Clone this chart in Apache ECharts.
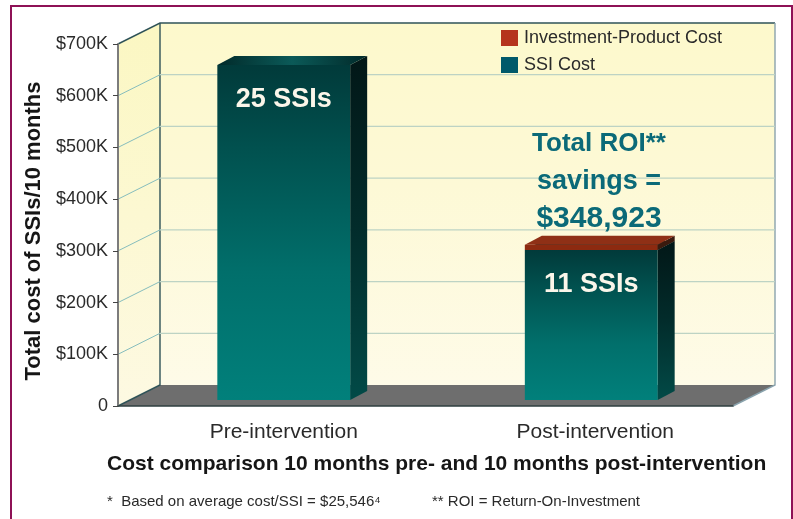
<!DOCTYPE html>
<html>
<head>
<meta charset="utf-8">
<title>Cost comparison</title>
<script src="https://cdn.jsdelivr.net/npm/echarts@6/dist/echarts.min.js"></script>
<style>
  html, body { margin: 0; padding: 0; background: #fff; }
  #chart { width: 793px; height: 519px; }
</style>
</head>
<body>
<div id="chart"></div>
<script>
// values
const categories = ["Pre-intervention", "Post-intervention"];
const ssiCost = [648000, 290000];
const investmentCost = [0, 10000];
const barLabels = ["25 SSIs", "11 SSIs"];
const yTicks = [0, 100000, 200000, 300000, 400000, 500000, 600000, 700000];

// fake 3d: back wall offset, and bar offset inside the box
const WALL_DX = 42, WALL_DY = -21;
const BAR_DX = 12, BAR_DY = -6;
const SIDE_DX = 17, SIDE_DY = -9;
const BAR_RATIO = 0.432;

const FONT = '"Liberation Sans", Arial, sans-serif';

function vGrad(stops) {
  return new echarts.graphic.LinearGradient(0, 0, 0, 1,
    stops.map((s) => ({ offset: s[0], color: s[1] })));
}

function poly(points, fill, z2) {
  return { type: "polygon", z2: z2 || 0, shape: { points }, style: { fill, stroke: null } };
}

function line(points, stroke, width, z2) {
  return { type: "polyline", z2: z2 || 1, shape: { points }, style: { fill: null, stroke, lineWidth: width } };
}

function renderBox(params) {
  const c = params.coordSys;
  const x0 = c.x, y0 = c.y, x1 = c.x + c.width, y1 = c.y + c.height;
  const bx0 = x0 + WALL_DX, bx1 = x1 + WALL_DX;
  const by0 = y0 + WALL_DY, by1 = y1 + WALL_DY;
  return {
    type: "group",
    children: [
      poly([[bx0, by0], [bx1, by0], [bx1, by1], [bx0, by1]],
        vGrad([[0, "#fdf9cc"], [0.45, "#fdf9d6"], [1, "#fefbe8"]])),
      poly([[x0, y0], [bx0, by0], [bx0, by1], [x0, y1]],
        vGrad([[0, "#fbf7c2"], [0.5, "#fcf8d2"], [1, "#fdf9e2"]])),
      poly([[x0, y1], [bx0, by1], [bx1, by1], [x1, y1]], "#6e6e6e", 2),
      line([[x0, y0], [bx0, by0], [bx1, by0]], "#2f5358", 1.4, 3),
      line([[bx0, by0], [bx0, by1], [x0, y1]], "#2f5358", 1.4, 3),
      line([[bx1, by0], [bx1, by1], [x1, y1]], "#8aa3ad", 1.4, 3)
    ]
  };
}

function renderGridLine(params, api) {
  const v = api.value(0);
  if (v === 0 || v === 700000) return null;
  const p = api.coord([0, v]);
  const c = params.coordSys;
  const y = p[1], bx1 = c.x + c.width + WALL_DX;
  return {
    type: "group",
    children: [
      line([[c.x, y], [c.x + WALL_DX, y + WALL_DY]], "#86bdbd", 1),
      line([[c.x + WALL_DX, y + WALL_DY], [bx1, y + WALL_DY]], "#bdd3c4", 1.2)
    ]
  };
}

// one block of the bar between two values, through the axis scales
function block(api, from, to, faces) {
  const cat = api.value(0);
  const bottom = api.coord([cat, from]);
  const top = api.coord([cat, to]);
  const w = api.size([1, 0])[0] * BAR_RATIO;
  const xl = bottom[0] - w / 2 + BAR_DX, xr = xl + w;
  const yb = bottom[1] + BAR_DY, yt = top[1] + BAR_DY;
  return {
    xl, xr, yb, yt,
    children: [
      poly([[xr, yb], [xr + SIDE_DX, yb + SIDE_DY], [xr + SIDE_DX, yt + SIDE_DY], [xr, yt]], faces.side, 1),
      poly([[xl, yt], [xl + SIDE_DX, yt + SIDE_DY], [xr + SIDE_DX, yt + SIDE_DY], [xr, yt]], faces.top, 1),
      poly([[xl, yb], [xr, yb], [xr, yt], [xl, yt]], faces.front, 2)
    ]
  };
}

function renderSsi(params, api) {
  const b = block(api, 0, api.value(1), {
    front: vGrad([[0, "#013a3a"], [0.25, "#01514f"], [0.62, "#016f6b"], [1, "#01807b"]]),
    side: vGrad([[0, "#021717"], [0.5, "#022c2b"], [1, "#024a47"]]),
    top: new echarts.graphic.LinearGradient(0, 0, 1, 0, [
      { offset: 0, color: "#012a2a" },
      { offset: 0.5, color: "#0b5a58" },
      { offset: 1, color: "#012a2a" }
    ])
  });
  b.children.push({
    type: "text",
    z2: 5,
    style: {
      text: barLabels[api.value(0)],
      x: (b.xl + b.xr) / 2,
      y: b.yt + 35,
      align: "center",
      verticalAlign: "middle",
      fill: "#fbf6ea",
      font: "bold 27px " + FONT
    }
  });
  return { type: "group", children: b.children };
}

function renderInvestment(params, api) {
  const amount = api.value(2);
  if (!amount) return null;
  const base = api.value(1);
  const b = block(api, base, base + amount, {
    front: "#8c2a10",
    side: "#3a1a0e",
    top: "#8f3016"
  });
  return { type: "group", children: b.children };
}

const chart = echarts.init(document.getElementById("chart"), null, { renderer: "canvas" });

chart.setOption({
  animation: false,
  backgroundColor: "#ffffff",
  textStyle: { fontFamily: FONT },
  grid: { left: 118, top: 44, width: 615, height: 362 },
  title: [
    {
      text: "Cost comparison 10 months pre- and 10 months post-intervention",
      left: 102, top: 449,
      textStyle: { fontFamily: FONT, fontSize: 21, fontWeight: "bold", color: "#161616" }
    },
    {
      text: "*  Based on average cost/SSI = $25,546\u2074",
      left: 102, top: 489,
      textStyle: { fontFamily: FONT, fontSize: 15, fontWeight: "normal", color: "#2a2a2a" }
    },
    {
      text: "** ROI = Return-On-Investment",
      left: 427, top: 489,
      textStyle: { fontFamily: FONT, fontSize: 15, fontWeight: "normal", color: "#2a2a2a" }
    }
  ],
  legend: {
    orient: "vertical",
    left: 496, top: 24,
    itemWidth: 17, itemHeight: 16, itemGap: 9,
    icon: "rect",
    selectedMode: false,
    data: ["Investment-Product Cost", "SSI Cost"],
    textStyle: { fontFamily: FONT, fontSize: 18, color: "#2a2a2a", padding: [0, 0, 0, 1] }
  },
  xAxis: {
    type: "category",
    data: categories,
    z: 5,
    axisLine: { lineStyle: { color: "#2f3f40", width: 1.5 } },
    axisTick: { show: false },
    axisLabel: {
      margin: 16,
      fontSize: 21,
      color: "#2a2a2a",
      formatter: (v, i) => (i === 0 ? "{a|" + v + "}" : "{b|" + v + "}"),
      rich: {
        a: { fontSize: 21, color: "#2a2a2a", padding: [0, 0, 0, 24] },
        b: { fontSize: 21, color: "#2a2a2a", padding: [0, 0, 0, 32] }
      }
    }
  },
  yAxis: {
    type: "value",
    min: 0,
    max: 700000,
    interval: 100000,
    z: 5,
    name: "Total cost of SSIs/10 months",
    nameLocation: "middle",
    nameRotate: 90,
    nameGap: 73,
    nameTextStyle: { fontFamily: FONT, fontSize: 22, fontWeight: "bold", color: "#161616", padding: [0, 12, 0, 0] },
    axisLine: { show: true, lineStyle: { color: "#7c7c7c", width: 2 } },
    axisTick: { show: true, length: 5, lineStyle: { color: "#444" } },
    splitLine: { show: false },
    axisLabel: {
      margin: 10,
      fontSize: 18,
      color: "#2a2a2a",
      formatter: (v) => (v === 0 ? "0" : "$" + v / 1000 + "K")
    }
  },
  series: [
    {
      type: "custom",
      z: 1,
      silent: true,
      coordinateSystem: "cartesian2d",
      renderItem: renderBox,
      data: [[0, 0]]
    },
    {
      type: "custom",
      z: 2,
      silent: true,
      coordinateSystem: "cartesian2d",
      renderItem: renderGridLine,
      encode: { x: 1, y: 0 },
      data: yTicks.map((t) => [t, 0])
    },
    {
      name: "SSI Cost",
      type: "custom",
      z: 3,
      coordinateSystem: "cartesian2d",
      itemStyle: { color: "#00596a" },
      renderItem: renderSsi,
      encode: { x: 0, y: 1 },
      data: categories.map((c, i) => [i, ssiCost[i]])
    },
    {
      name: "Investment-Product Cost",
      type: "custom",
      z: 4,
      coordinateSystem: "cartesian2d",
      itemStyle: { color: "#b5341c" },
      renderItem: renderInvestment,
      encode: { x: 0, y: 1 },
      data: categories.map((c, i) => [i, ssiCost[i], investmentCost[i]])
    }
  ],
  graphic: [
    {
      type: "polyline",
      z: 20,
      silent: true,
      shape: { points: [[11, 519], [11, 6], [792, 6], [792, 519]] },
      style: { fill: null, stroke: "#8e1156", lineWidth: 2 }
    },
    {
      type: "text",
      z: 20,
      silent: true,
      style: { x: 599, y: 144, text: "Total ROI**", align: "center", verticalAlign: "middle", fill: "#0b6a78", font: "bold 26px " + FONT }
    },
    {
      type: "text",
      z: 20,
      silent: true,
      style: { x: 599, y: 182, text: "savings =", align: "center", verticalAlign: "middle", fill: "#0b6a78", font: "bold 27px " + FONT }
    },
    {
      type: "text",
      z: 20,
      silent: true,
      style: { x: 599, y: 219, text: "$348,923", align: "center", verticalAlign: "middle", fill: "#0b6a78", font: "bold 30px " + FONT }
    }
  ]
});
</script>
</body>
</html>
